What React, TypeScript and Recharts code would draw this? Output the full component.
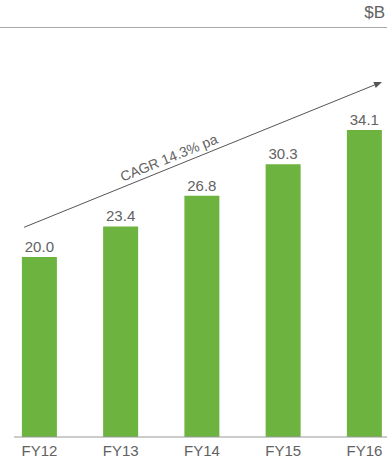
// FY revenue bar chart with CAGR arrow

import React from 'react'
import { BarChart, Bar, XAxis, YAxis, LabelList, ReferenceLine } from 'recharts'

const categories = ['FY12', 'FY13', 'FY14', 'FY15', 'FY16']
const revenue = [20.0, 23.4, 26.8, 30.3, 34.1]
const cagrLabel = 'CAGR 14.3% pa'
const unitLabel = '$B'
// arrow endpoints in data units (x = category index, y = $B)
const arrowStart = { x: -0.19, y: 23.3 }
const arrowEnd = { x: 4.215, y: 39.45 }

const data = categories.map((label, i) => ({ x: i, label, value: revenue[i] }))

const FONT = '"Liberation Sans", Arial, Helvetica, sans-serif'
const GREEN = '#6cb33f'
const TEXT = '#626262'

const ArrowShape = (props: any) => {
  const { x1, y1, x2, y2 } = props
  const dx = x2 - x1
  const dy = y2 - y1
  const len = Math.sqrt(dx * dx + dy * dy)
  const ux = dx / len
  const uy = dy / len
  const head = 8
  const half = 3.2
  const bx = x2 - ux * head
  const by = y2 - uy * head
  const angle = (Math.atan2(dy, dx) * 180) / Math.PI
  const t = 0.415
  const mx = x1 + dx * t + uy * 10
  const my = y1 + dy * t - ux * 10
  return (
    <g>
      <line x1={x1} y1={y1} x2={bx} y2={by} stroke="#555" strokeWidth={1} />
      <polygon
        points={`${x2},${y2} ${bx - uy * half},${by + ux * half} ${bx + uy * half},${by - ux * half}`}
        fill="#555"
      />
      <text
        x={mx}
        y={my}
        transform={`rotate(${angle} ${mx} ${my})`}
        textAnchor="middle"
        dominantBaseline="central"
        fontSize={14}
        fill={TEXT}
        fontFamily={FONT}
      >
        {cagrLabel}
      </text>
    </g>
  )
}

export default function App() {
  return (
    <div style={{ position: 'absolute', left: 0, top: 0, width: 387, height: 460, overflow: 'hidden', background: '#fff', fontFamily: FONT }}>
      <div style={{ position: 'absolute', right: 2, top: 3, fontSize: 17, color: TEXT }}>{unitLabel}</div>
      <div style={{ position: 'absolute', left: 0, top: 27, width: 387, height: 1, background: '#a8a8a8' }} />
      <BarChart width={387} height={460} data={data} margin={{ top: 77, right: 0, left: 14, bottom: 0 }}>
        <XAxis
          type="number"
          dataKey="x"
          domain={[-0.314, 4.277]}
          allowDataOverflow
          ticks={[0, 1, 2, 3, 4]}
          interval={0}
          tickFormatter={(v: number) => categories[v]}
          tickLine={false}
          axisLine={{ stroke: '#999' }}
          tick={{ fill: TEXT, fontSize: 15, fontFamily: FONT }}
          height={23}
        />
        <YAxis hide domain={[0, 40]} allowDataOverflow />
        <Bar dataKey="value" fill={GREEN} barSize={35} isAnimationActive={false}>
          <LabelList
            dataKey="value"
            position="top"
            offset={5}
            formatter={(v: any) => Number(v).toFixed(1)}
            style={{ fill: TEXT, fontSize: 15, fontFamily: FONT }}
          />
        </Bar>
        <ReferenceLine
          segment={[arrowStart, arrowEnd]}
          ifOverflow="visible"
          shape={ArrowShape}
        />
      </BarChart>
    </div>
  )
}
